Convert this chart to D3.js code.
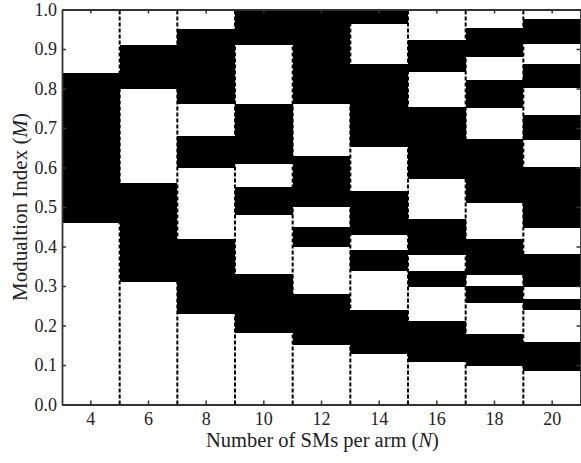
<!DOCTYPE html>
<html>
<head>
<meta charset="utf-8">
<script src="https://cdn.jsdelivr.net/npm/d3@7"></script>
<style>
  html, body { margin: 0; padding: 0; background: #fff; }
  svg { display: block; }
</style>
</head>
<body>
<svg id="chart" width="581" height="463"></svg>
<script>
// Number of SMs per arm (categories)
const nValues = [4, 6, 8, 10, 12, 14, 16, 18, 20];
// Modulation-index values where the region switches colour (bottom segment is white)
const m4  = [0.46, 0.84];
const m6  = [0.31, 0.56, 0.80, 0.91];
const m8  = [0.23, 0.42, 0.60, 0.68, 0.76, 0.95];
const m10 = [0.18, 0.33, 0.48, 0.55, 0.61, 0.76, 0.91];
const m12 = [0.15, 0.28, 0.40, 0.45, 0.50, 0.63, 0.76];
const m14 = [0.127, 0.239, 0.338, 0.391, 0.429, 0.541, 0.651, 0.863, 0.963];
const m16 = [0.107, 0.211, 0.298, 0.338, 0.378, 0.470, 0.570, 0.752, 0.841, 0.924];
const m18 = [0.097, 0.178, 0.258, 0.299, 0.329, 0.420, 0.509, 0.672, 0.750, 0.822, 0.881, 0.953];
const m20 = [0.086, 0.158, 0.239, 0.268, 0.298, 0.381, 0.448, 0.602, 0.670, 0.732, 0.801, 0.863, 0.913, 0.975];
const switchPoints = [m4, m6, m8, m10, m12, m14, m16, m18, m20];
const yTicks = [0, 0.1, 0.2, 0.3, 0.4, 0.5, 0.6, 0.7, 0.8, 0.9, 1.0];

(function () {
const FONT = "'Liberation Serif', 'Times New Roman', serif";
const svg = d3.select("#chart");
const pl = 62, pr = 581, pt = 9.5, pb = 404.5;

const x = d3.scaleBand().domain(nValues).range([pl, pr]).paddingInner(0).paddingOuter(0);
const y = d3.scaleLinear().domain([0, 1]).range([pb, pt]);

// build segments
const segments = [];
nValues.forEach((n, i) => {
  const pts = [0, ...switchPoints[i], 1];
  for (let k = 0; k < pts.length - 1; k++) {
    segments.push({ n, y0: pts[k], y1: pts[k + 1], black: k % 2 === 1 });
  }
});

svg.append("g").selectAll("rect").data(segments).join("rect")
  .attr("x", d => x(d.n))
  .attr("width", x.bandwidth())
  .attr("y", d => y(d.y1))
  .attr("height", d => y(d.y0) - y(d.y1))
  .attr("fill", d => d.black ? "#000" : "#fff")
  .attr("shape-rendering", "crispEdges");

// dashed separators between columns
svg.append("g").selectAll("line").data(nValues.slice(1)).join("line")
  .attr("x1", d => x(d)).attr("x2", d => x(d))
  .attr("y1", y(0)).attr("y2", y(1))
  .attr("stroke", "#000")
  .attr("stroke-width", 2)
  .attr("stroke-dasharray", "4,2");

// axes
const fmt = d3.format(".1f");
const gL = svg.append("g").attr("transform", `translate(${pl},0)`)
  .call(d3.axisLeft(y).tickValues(yTicks).tickFormat(fmt).tickSizeInner(-4).tickSizeOuter(0).tickPadding(5));
const gB = svg.append("g").attr("transform", `translate(0,${pb})`)
  .call(d3.axisBottom(x).tickSizeInner(-4).tickSizeOuter(0).tickPadding(8));
const gT = svg.append("g").attr("transform", `translate(0,${pt})`)
  .call(d3.axisTop(x).tickSizeInner(-4).tickSizeOuter(0).tickFormat(""));
const gR = svg.append("g").attr("transform", `translate(${pr - 0.5},0)`)
  .call(d3.axisRight(y).tickValues(yTicks).tickSizeInner(-4).tickSizeOuter(0).tickFormat(""));

[gL, gB, gT, gR].forEach(g => {
  g.attr("font-family", FONT).attr("font-size", 18);
  g.select(".domain").attr("stroke", "#333").attr("stroke-width", 1.8);
  g.selectAll(".tick line").attr("stroke", "#333").attr("stroke-width", 1.5);
  g.selectAll(".tick text").attr("fill", "#222");
});

// axis titles
const xt = svg.append("text")
  .attr("x", (pl + pr) / 2 + 1)
  .attr("y", 447)
  .attr("text-anchor", "middle")
  .attr("font-family", FONT)
  .attr("fill", "#222")
  .attr("font-size", 20.5);
xt.append("tspan").text("Number of SMs per arm (");
xt.append("tspan").attr("font-style", "italic").text("N");
xt.append("tspan").text(")");

const yt = svg.append("text")
  .attr("transform", `translate(27,${(pt + pb) / 2}) rotate(-90)`)
  .attr("text-anchor", "middle")
  .attr("font-family", FONT)
  .attr("fill", "#222")
  .attr("font-size", 21);
yt.append("tspan").text("Modualtion Index (");
yt.append("tspan").attr("font-style", "italic").text("M");
yt.append("tspan").text(")");
})();
</script>
</body>
</html>
